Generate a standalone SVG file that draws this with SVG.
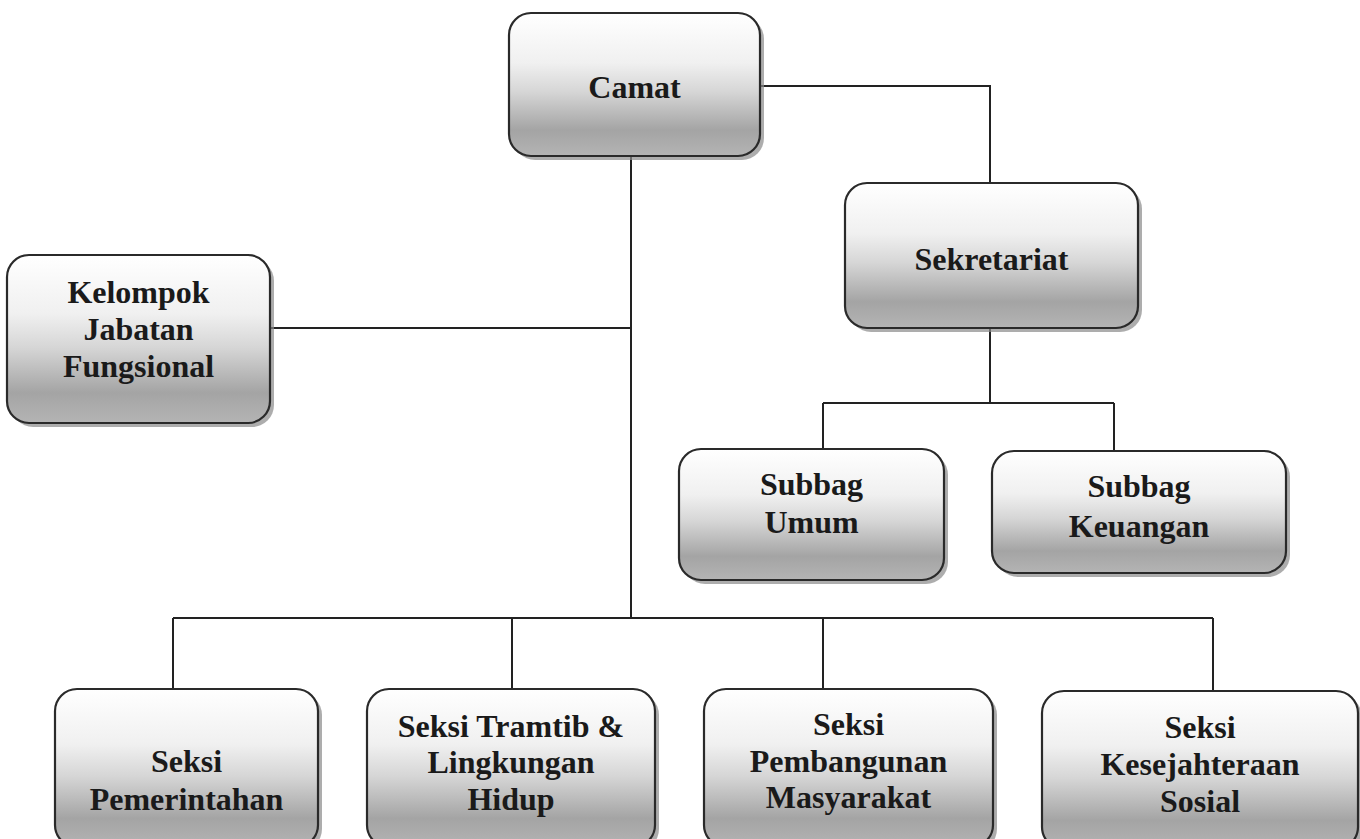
<svg xmlns="http://www.w3.org/2000/svg" width="1360" height="839" viewBox="0 0 1360 839">
<defs>
<linearGradient id="g" x1="0" y1="0" x2="0" y2="1">
<stop offset="0" stop-color="#ffffff"/>
<stop offset="0.35" stop-color="#f0f0f0"/>
<stop offset="0.55" stop-color="#d6d6d6"/>
<stop offset="0.82" stop-color="#a4a4a4"/>
<stop offset="1" stop-color="#b4b4b4"/>
</linearGradient>
</defs>
<style>
.box{fill:url(#g);stroke:#2a2a2a;stroke-width:2.2}
.sh{fill:#8a8a8a;opacity:0.7}
.t{font-family:"Liberation Serif","Times New Roman",serif;font-weight:bold;font-size:32px;fill:#1a1a1a;text-anchor:middle}
.c{fill:none;stroke:#222;stroke-width:2}
</style>
<rect width="1360" height="839" fill="#ffffff"/>
<g id="connectors">
<path class="c" d="M760 86 H990 V183"/>
<path class="c" d="M631 156 V618"/>
<path class="c" d="M270 328 H631"/>
<path class="c" d="M990 328 V403 M823 403 H1114 M823 403 V449 M1114 403 V451"/>
<path class="c" d="M173 618 H1213 M173 618 V689 M512 618 V689 M823 618 V689 M1213 618 V691"/>
</g>
<g id="camat">
<rect class="sh" x="513" y="17" width="251" height="143" rx="22"/>
<rect class="box" x="509" y="13" width="251" height="143" rx="22"/>
<text class="t" x="634.5" y="98">Camat</text>
</g>
<g id="sekretariat">
<rect class="sh" x="849" y="187" width="293" height="145" rx="22"/>
<rect class="box" x="845" y="183" width="293" height="145" rx="22"/>
<text class="t" x="991.5" y="270">Sekretariat</text>
</g>
<g id="kelompok">
<rect class="sh" x="11" y="259" width="263" height="168" rx="22"/>
<rect class="box" x="7" y="255" width="263" height="168" rx="22"/>
<text class="t" x="138.5" y="303">Kelompok</text>
<text class="t" x="138.5" y="340">Jabatan</text>
<text class="t" x="138.5" y="377">Fungsional</text>
</g>
<g id="subbag-umum">
<rect class="sh" x="683" y="453" width="265" height="131" rx="22"/>
<rect class="box" x="679" y="449" width="265" height="131" rx="22"/>
<text class="t" x="811.5" y="495">Subbag</text>
<text class="t" x="811.5" y="533">Umum</text>
</g>
<g id="subbag-keuangan">
<rect class="sh" x="996" y="455" width="294" height="122" rx="22"/>
<rect class="box" x="992" y="451" width="294" height="122" rx="22"/>
<text class="t" x="1139" y="497">Subbag</text>
<text class="t" x="1139" y="537">Keuangan</text>
</g>
<g id="seksi-pemerintahan">
<rect class="sh" x="59" y="693" width="263" height="158" rx="22"/>
<rect class="box" x="55" y="689" width="263" height="158" rx="22"/>
<text class="t" x="186.5" y="772">Seksi</text>
<text class="t" x="186.5" y="810">Pemerintahan</text>
</g>
<g id="seksi-tramtib">
<rect class="sh" x="371" y="693" width="288" height="158" rx="22"/>
<rect class="box" x="367" y="689" width="288" height="158" rx="22"/>
<text class="t" x="511" y="737">Seksi Tramtib &amp;</text>
<text class="t" x="511" y="773">Lingkungan</text>
<text class="t" x="511" y="810">Hidup</text>
</g>
<g id="seksi-pembangunan">
<rect class="sh" x="708" y="693" width="289" height="158" rx="22"/>
<rect class="box" x="704" y="689" width="289" height="158" rx="22"/>
<text class="t" x="848.5" y="735">Seksi</text>
<text class="t" x="848.5" y="772">Pembangunan</text>
<text class="t" x="848.5" y="808">Masyarakat</text>
</g>
<g id="seksi-kesejahteraan">
<rect class="sh" x="1046" y="695" width="316" height="158" rx="22"/>
<rect class="box" x="1042" y="691" width="316" height="158" rx="22"/>
<text class="t" x="1200" y="738">Seksi</text>
<text class="t" x="1200" y="775">Kesejahteraan</text>
<text class="t" x="1200" y="812">Sosial</text>
</g>
</svg>
